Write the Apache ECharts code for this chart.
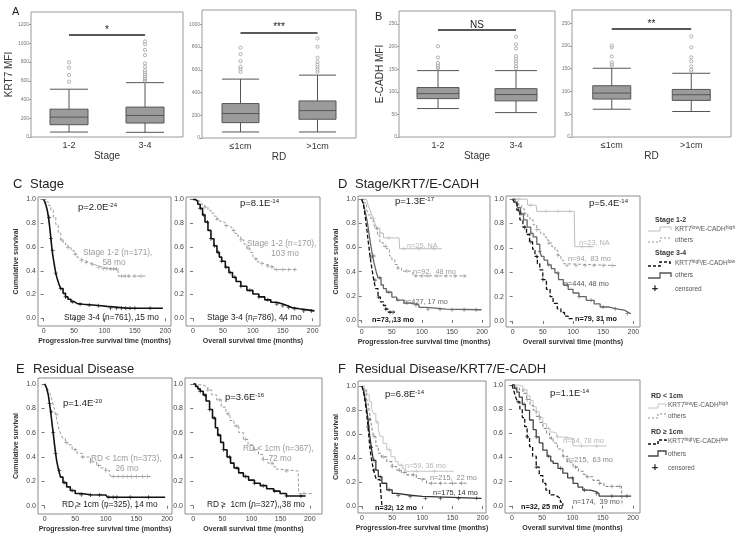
<!DOCTYPE html>
<html><head><meta charset="utf-8">
<script src="https://cdn.jsdelivr.net/npm/echarts@6/dist/echarts.min.js"></script>
<style>html,body{margin:0;padding:0;background:#fff}#c{width:746px;height:538px}</style>
</head><body><div id="c"></div>
<script>
const FONT = "'Liberation Sans', Arial, Helvetica, sans-serif";

// ---------------- Box plot data ----------------
const stageCats = ['1-2', '3-4'];
const rdCats = ['≤1cm', '>1cm'];
const krt7Ticks = [0, 200, 400, 600, 800, 1000, 1200];
const krt7RdTicks = [0, 200, 400, 600, 800, 1000];
const ecadTicks = [0, 50, 100, 150, 200, 250];

// [min, Q1, median, Q3, max]
const krt7StageBox = [[53, 131, 212, 297, 510], [50, 149, 230, 319, 580]];
const krt7StageOut = [[591, 662, 740, 796], [600, 615, 630, 650, 670, 692, 712, 750, 786, 874, 930, 990, 1020]];
const krt7RdBox = [[53, 135, 215, 303, 518], [53, 165, 241, 326, 553]];
const krt7RdOut = [[582, 606, 626, 676, 738, 794], [582, 603, 626, 647, 670, 706, 803, 876]];
const ecadStageBox = [[63, 85, 96, 109.5, 147], [54, 80, 94, 107, 147]];
const ecadStageOut = [[152, 155, 159, 164, 176, 201], [152, 157, 163, 168, 174, 179, 196, 205, 222]];
const ecadRdBox = [[61, 83.3, 96.5, 112.6, 151], [56, 80.4, 92.8, 104.5, 140]];
const ecadRdOut = [[156, 160, 164, 177, 197, 201], [144, 148, 155, 166, 175, 197, 221]];

// ---------------- Kaplan-Meier data [months, survival] ----------------
const timeTicks = [0, 50, 100, 150, 200];
const survTicks = [0, 0.2, 0.4, 0.6, 0.8, 1.0];

// C: Stage
const pfsStage12 = [[0,1],[4,0.98],[8,0.95],[12,0.91],[16,0.85],[20,0.79],[24,0.72],[28,0.66],[32,0.64],[36,0.62],[40,0.595],[45,0.57],[50,0.54],[55,0.515],[58,0.50],[62,0.485],[68,0.47],[75,0.455],[82,0.44],[90,0.43],[96,0.42],[105,0.415],[122,0.41],[123,0.355],[170,0.355]];
const pfsStage34 = [[0,1],[2,0.98],[4,0.95],[6,0.91],[8,0.85],[10,0.77],[12,0.67],[14,0.57],[16,0.5],[18,0.44],[20,0.38],[22,0.34],[25,0.29],[28,0.25],[32,0.21],[36,0.18],[40,0.16],[45,0.14],[50,0.125],[55,0.118],[65,0.112],[80,0.105],[95,0.10],[104,0.095],[106,0.085],[140,0.085],[196,0.08]];
const osStage12 = [[0,1],[5,0.99],[10,0.975],[15,0.955],[20,0.935],[25,0.91],[30,0.885],[35,0.86],[40,0.835],[45,0.815],[50,0.80],[55,0.78],[60,0.765],[65,0.74],[70,0.715],[75,0.69],[80,0.66],[85,0.625],[90,0.59],[95,0.555],[100,0.52],[103,0.50],[107,0.475],[112,0.46],[118,0.45],[125,0.44],[130,0.43],[136,0.41],[173,0.41]];
const osStage34 = [[0,1],[4,0.985],[8,0.96],[12,0.925],[16,0.87],[20,0.81],[25,0.74],[30,0.67],[35,0.61],[40,0.555],[44,0.515],[48,0.48],[54,0.43],[60,0.385],[66,0.345],[72,0.31],[80,0.27],[90,0.235],[100,0.205],[110,0.18],[120,0.155],[130,0.135],[140,0.12],[150,0.105],[158,0.09],[165,0.08],[178,0.075],[185,0.062],[203,0.062]];
const cenPfsStage12 = [30,40,52,62,70,80,90,98,104,110,115,120,128,134,140,150,160];
const cenPfsStage34 = [9,12,15,20,28,36,48,60,75,90,110,120,128,135,142,150,175];
const cenOsStage12 = [20,40,55,68,80,92,105,115,125,132,140,150,160,170];
const cenOsStage34 = [12,18,24,30,36,42,48,55,62,70,80,95,110,125,140,150,160,170,185,198];

// D: Stage / KRT7 / E-CADH
const pfsS12Low = [[0,1],[8,1],[10,0.96],[13,0.92],[16,0.88],[19,0.84],[22,0.80],[25,0.76],[30,0.72],[36,0.68],[62,0.68],[63,0.59],[133,0.59]];
const pfsS12Oth = [[0,1],[4,0.97],[8,0.92],[11,0.87],[15,0.84],[19,0.815],[22,0.76],[26,0.70],[30,0.64],[36,0.61],[41,0.59],[46,0.53],[50,0.50],[55,0.46],[60,0.43],[66,0.405],[80,0.395],[85,0.365],[174,0.365]];
const pfsS34Oth = [[0,1],[3,0.96],[6,0.89],[9,0.82],[12,0.72],[15,0.62],[18,0.53],[21,0.46],[24,0.40],[27,0.35],[32,0.29],[36,0.26],[41,0.23],[50,0.19],[58,0.165],[70,0.14],[80,0.125],[95,0.105],[108,0.09],[140,0.085],[199,0.08]];
const pfsS34High = [[0,1],[3,0.95],[6,0.85],[8,0.77],[11,0.64],[14,0.52],[17,0.42],[20,0.33],[23,0.26],[27,0.19],[31,0.15],[36,0.12],[40,0.09],[44,0.065],[55,0.065]];
const osS12Low = [[0,1],[24,1],[25,0.95],[39,0.95],[40,0.90],[102,0.90],[103,0.61],[135,0.61]];
const osS12Oth = [[0,1],[5,0.98],[10,0.95],[15,0.92],[20,0.88],[25,0.85],[29,0.83],[34,0.79],[40,0.75],[46,0.72],[52,0.69],[56,0.665],[60,0.64],[65,0.61],[70,0.58],[75,0.54],[80,0.50],[84,0.47],[88,0.455],[172,0.455]];
const osS34Oth = [[0,1],[4,0.97],[8,0.93],[13,0.88],[18,0.83],[24,0.77],[30,0.72],[34,0.69],[40,0.63],[45,0.57],[48,0.53],[52,0.50],[58,0.46],[64,0.43],[70,0.395],[76,0.34],[84,0.295],[92,0.26],[100,0.23],[110,0.20],[122,0.17],[135,0.14],[145,0.115],[160,0.10],[172,0.09],[185,0.075],[190,0.06],[196,0.06]];
const osS34High = [[0,1],[3,0.97],[7,0.91],[12,0.83],[17,0.77],[23,0.71],[28,0.65],[33,0.59],[37,0.53],[41,0.47],[45,0.42],[50,0.34],[56,0.26],[62,0.2],[67,0.145],[74,0.10],[80,0.07],[86,0.04],[92,0.02],[100,0.01]];
const cenPfsS12Low = [20,30,45,70,95,120];
const cenPfsS12Oth = [25,40,60,75,90,100,110,125,140,155,170];
const cenPfsS34Oth = [20,30,45,60,75,90,110,130,150,170,190];
const cenPfsS34High = [15,22,28,40,47,52];
const cenOsS12Low = [10,30,55,75,95,115,128];
const cenOsS12Oth = [20,40,60,75,90,105,120,135,150,165];
const cenOsS34Oth = [15,30,45,60,75,90,110,130,150,170,190];
const cenOsS34High = [10,20,30,40,50];

// E: Residual disease
const pfsRDlt = [[0,1],[3,0.98],[6,0.95],[9,0.92],[12,0.87],[15,0.81],[18,0.75],[21,0.68],[24,0.62],[27,0.58],[30,0.55],[34,0.52],[38,0.50],[45,0.46],[53,0.43],[62,0.40],[75,0.36],[85,0.33],[92,0.31],[100,0.29],[106,0.26],[108,0.24],[173,0.24]];
const pfsRDge = [[0,1],[3,0.97],[6,0.91],[8,0.84],[10,0.77],[12,0.68],[14,0.60],[16,0.51],[18,0.43],[20,0.36],[23,0.29],[26,0.235],[30,0.19],[36,0.155],[42,0.125],[50,0.10],[60,0.09],[75,0.088],[100,0.085],[103,0.07],[197,0.065]];
const osRDlt = [[0,1],[5,0.995],[10,0.99],[17,0.975],[25,0.95],[32,0.91],[40,0.87],[48,0.81],[56,0.755],[63,0.70],[70,0.655],[78,0.60],[86,0.545],[94,0.50],[103,0.46],[112,0.42],[120,0.38],[128,0.35],[137,0.32],[143,0.30],[149,0.285],[180,0.285],[181,0.10],[203,0.10]];
const osRDge = [[0,1],[4,0.98],[8,0.96],[12,0.94],[17,0.91],[22,0.86],[28,0.79],[33,0.72],[38,0.64],[42,0.58],[47,0.52],[52,0.46],[58,0.40],[64,0.35],[70,0.31],[78,0.27],[86,0.24],[95,0.21],[105,0.185],[115,0.165],[126,0.14],[138,0.12],[149,0.10],[160,0.08],[193,0.075]];
const cenPfsRDlt = [20,35,50,62,75,88,100,112,120,128,135,142,150,160,168];
const cenPfsRDge = [8,11,14,18,24,32,45,60,75,90,105,112,118,140,170];
const cenOsRDlt = [25,45,60,75,90,105,120,135,160,190];
const cenOsRDge = [12,20,28,36,44,52,62,75,90,105,120,140,160,185];

// F: Residual disease / KRT7 / E-CADH
const pfsRDltLow = [[0,1],[4,0.97],[8,0.93],[12,0.87],[16,0.81],[19,0.77],[23,0.70],[27,0.64],[30,0.58],[35,0.52],[41,0.47],[48,0.41],[55,0.37],[60,0.34],[68,0.31],[72,0.29],[152,0.29]];
const pfsRDltOth = [[0,1],[3,0.96],[7,0.90],[10,0.855],[13,0.76],[16,0.66],[19,0.58],[23,0.50],[27,0.44],[32,0.41],[41,0.37],[50,0.33],[57,0.30],[65,0.28],[74,0.26],[90,0.23],[100,0.22],[107,0.19],[173,0.19]];
const pfsRDgeOth = [[0,1],[3,0.95],[6,0.87],[8,0.80],[10,0.72],[13,0.58],[16,0.47],[19,0.38],[23,0.30],[27,0.245],[33,0.19],[41,0.135],[50,0.105],[58,0.09],[80,0.08],[100,0.075],[102,0.064],[198,0.064]];
const pfsRDgeHigh = [[0,1],[3,0.94],[6,0.84],[8,0.76],[10,0.66],[13,0.49],[16,0.38],[19,0.30],[22,0.25],[24,0.22],[30,0.19],[32,0.19],[33,0]];
const osRDltLow = [[0,1],[10,0.99],[18,0.96],[25,0.91],[30,0.87],[35,0.82],[40,0.78],[45,0.73],[51,0.68],[57,0.64],[63,0.61],[68,0.60],[74,0.57],[79,0.56],[100,0.56],[101,0.495],[156,0.495]];
const osRDltOth = [[0,1],[6,0.98],[12,0.96],[18,0.93],[24,0.88],[30,0.83],[35,0.79],[40,0.74],[46,0.69],[51,0.64],[57,0.60],[62,0.56],[68,0.52],[75,0.47],[84,0.41],[92,0.36],[101,0.32],[110,0.285],[118,0.26],[123,0.24],[134,0.21],[145,0.185],[152,0.16],[181,0.16],[182,0]];
const osRDgeOth = [[0,1],[4,0.97],[8,0.94],[12,0.90],[17,0.84],[22,0.79],[29,0.71],[35,0.63],[40,0.57],[45,0.52],[51,0.46],[58,0.41],[64,0.37],[68,0.35],[76,0.31],[84,0.27],[92,0.23],[101,0.185],[109,0.155],[117,0.13],[130,0.115],[140,0.10],[144,0.08],[197,0.08]];
const osRDgeHigh = [[0,1],[3,0.95],[6,0.90],[9,0.86],[13,0.80],[17,0.73],[21,0.655],[25,0.57],[29,0.49],[34,0.41],[40,0.32],[45,0.25],[51,0.185],[56,0.13],[62,0.09],[70,0.075],[76,0.06],[80,0.03],[84,0]];
const cenPfsRDltLow = [25,45,65,90,120];
const cenPfsRDltOth = [20,35,50,62,70,85,100,115,130,150,165];
const cenPfsRDgeOth = [12,20,30,45,60,80,105,130,160,190];
const cenPfsRDgeHigh = [10,15,20];
const cenOsRDltLow = [20,40,60,75,90,115,140];
const cenOsRDltOth = [25,45,65,85,105,125,145,165,178];
const cenOsRDgeOth = [20,40,60,80,100,120,140,165,190];
const cenOsRDgeHigh = [10,25,40];

// ---------------- builders ----------------
const PLUS = 'path://M4,0h2v4h4v2h-4v4h-2v-4h-4v-2h4z';
const grids = [], xAxes = [], yAxes = [], series = [], graphics = [];

function stepAt(curve, t) {
  let s = curve[0][1];
  for (const p of curve) { if (p[0] <= t) s = p[1]; else break; }
  return s;
}

function addBox(cfg) {
  const gi = grids.length;
  grids.push({left: cfg.rect[0], top: cfg.rect[1], width: cfg.rect[2], height: cfg.rect[3],
    show: true, borderColor: '#9a9a9a', borderWidth: 1, backgroundColor: 'transparent'});
  xAxes.push({type: 'category', gridIndex: gi, data: cfg.cats, boundaryGap: true,
    axisLine: {show: false}, axisTick: {show: false},
    axisLabel: {fontSize: 9, color: '#333', margin: 4, fontFamily: FONT},
    name: cfg.xName, nameLocation: 'middle', nameGap: 12,
    nameTextStyle: {fontSize: 10, color: '#333', fontFamily: FONT}});
  yAxes.push({type: 'value', gridIndex: gi, min: 0, max: cfg.max,
    axisLine: {show: false},
    axisTick: {show: true, length: 2, lineStyle: {color: '#999'}, customValues: cfg.ticks},
    axisLabel: {fontSize: 5, color: '#777', margin: 2, customValues: cfg.ticks, fontFamily: FONT,
      formatter: v => String(Math.round(v))},
    splitLine: {show: false},
    name: cfg.yName || '', nameLocation: 'middle', nameGap: 12,
    nameTextStyle: {fontSize: 10, color: '#333', fontFamily: FONT}});
  series.push({type: 'boxplot', xAxisIndex: gi, yAxisIndex: gi, data: cfg.box,
    boxWidth: [cfg.bw, cfg.bw],
    itemStyle: {color: '#9b9b9b', borderColor: '#555', borderWidth: 1},
    silent: true, animation: false,
    markLine: {silent: true, symbol: ['none', 'none'], animation: false,
      lineStyle: {color: '#222', width: 1.5, type: 'solid'},
      label: {show: true, position: 'middle', formatter: cfg.sig, fontSize: 10, color: '#222', fontFamily: FONT, distance: 0},
      data: [[{coord: [0, cfg.sigY]}, {coord: [1, cfg.sigY]}]]}});
  const pts = [];
  cfg.out.forEach((arr, i) => arr.forEach(v => pts.push([i, v])));
  series.push({type: 'scatter', xAxisIndex: gi, yAxisIndex: gi, data: pts, symbol: 'circle', symbolSize: 3.2,
    itemStyle: {color: '#fff', borderColor: '#8a8a8a', borderWidth: 0.8}, silent: true, animation: false, z: 5});
}

function addKM(cfg) {
  const gi = grids.length;
  grids.push({left: cfg.rect[0], top: cfg.rect[1], width: cfg.rect[2], height: cfg.rect[3],
    show: true, borderColor: '#8c8c8c', borderWidth: 1, backgroundColor: 'transparent'});
  xAxes.push({type: 'value', gridIndex: gi, min: cfg.xr[0], max: cfg.xr[1],
    axisLine: {show: false},
    axisTick: {show: true, length: 3, lineStyle: {color: '#777'}, customValues: timeTicks},
    axisLabel: {customValues: timeTicks, fontSize: 7, color: '#444', margin: 2, fontFamily: FONT,
      formatter: v => String(Math.round(v))},
    splitLine: {show: false},
    name: cfg.xName, nameLocation: 'middle', nameGap: 12,
    nameTextStyle: {fontSize: 7, fontWeight: 'bold', color: '#333', fontFamily: FONT}});
  yAxes.push({type: 'value', gridIndex: gi, min: cfg.yr[0], max: cfg.yr[1],
    axisLine: {show: false},
    axisTick: {show: true, length: 3, lineStyle: {color: '#777'}, customValues: survTicks},
    axisLabel: {customValues: survTicks, fontSize: 7, color: '#444', margin: 2, fontFamily: FONT,
      formatter: v => Number(v).toFixed(1)},
    splitLine: {show: false},
    name: cfg.yName || '', nameLocation: 'middle', nameGap: 18,
    nameTextStyle: {fontSize: 7, fontWeight: 'bold', color: '#333', fontFamily: FONT}});
  cfg.curves.forEach(c => {
    series.push({type: 'line', xAxisIndex: gi, yAxisIndex: gi, data: c.data, step: 'end',
      symbol: 'none', showSymbol: false, silent: true, animation: false, z: c.z || 2,
      lineStyle: {color: c.color, width: c.w, type: c.dash || 'solid'}});
    series.push({type: 'scatter', xAxisIndex: gi, yAxisIndex: gi,
      data: c.cen.map(t => [t, stepAt(c.data, t)]), symbol: PLUS, symbolSize: 4,
      itemStyle: {color: c.color}, silent: true, animation: false, z: (c.z || 2) + 1});
  });
}

function txt(x, y, text, o) {
  o = o || {};
  const st = {text: text, fill: o.color || '#222', fontSize: o.size || 8, fontFamily: FONT,
    fontWeight: o.bold ? 'bold' : 'normal', align: o.align || 'left', verticalAlign: 'middle'};
  if (o.sup) st.rich = {s: {fontSize: o.sup, fill: o.color || '#222', fontFamily: FONT, verticalAlign: 'top', fontWeight: o.bold ? 'bold' : 'normal'}};
  graphics.push({type: 'text', x: x, y: y, silent: true, z: 50, style: st});
}
function pline(points, color, width, dash) {
  graphics.push({type: 'polyline', silent: true, z: 50, shape: {points: points},
    style: {stroke: color, lineWidth: width, fill: null, lineDash: dash || null}});
}

// ---------------- panels ----------------
addBox({rect: [31, 12, 152, 125], cats: stageCats, box: krt7StageBox, out: krt7StageOut, max: 1334, ticks: krt7Ticks,
  yName: 'KRT7 MFI', xName: 'Stage', sig: '*', sigY: 1087, bw: 38});
addBox({rect: [202, 10, 154, 128], cats: rdCats, box: krt7RdBox, out: krt7RdOut, max: 1126, ticks: krt7RdTicks,
  xName: 'RD', sig: '***', sigY: 929, bw: 37});
addBox({rect: [399, 11, 156, 126], cats: stageCats, box: ecadStageBox, out: ecadStageOut, max: 279, ticks: ecadTicks,
  yName: 'E-CADH MFI', xName: 'Stage', sig: 'NS', sigY: 237, bw: 42});
addBox({rect: [572, 10, 159, 127], cats: rdCats, box: ecadRdBox, out: ecadRdOut, max: 279, ticks: ecadTicks,
  xName: 'RD', sig: '**', sigY: 237, bw: 38});

const PFS = 'Progression-free survival time (months)';
const OS = 'Overall survival time (months)';
const CS = 'Cumulative survival';
const gray = '#9a9a9a', black = '#111';

addKM({rect: [38, 197, 133, 129], xr: [-9.2, 209.3], yr: [-0.065, 1.021], xName: PFS, yName: CS, curves: [
  {data: pfsStage12, cen: cenPfsStage12, color: gray, w: 1, dash: [3, 2]},
  {data: pfsStage34, cen: cenPfsStage34, color: black, w: 1.6, z: 4}]});
addKM({rect: [186, 197, 134, 129], xr: [-11.7, 212.2], yr: [-0.065, 1.021], xName: OS, curves: [
  {data: osStage12, cen: cenOsStage12, color: gray, w: 1, dash: [3, 2]},
  {data: osStage34, cen: cenOsStage34, color: black, w: 1.6, z: 4}]});
addKM({rect: [358, 196, 132, 131], xr: [-6.2, 213], yr: [-0.058, 1.027], xName: PFS, yName: CS, curves: [
  {data: pfsS12Low, cen: cenPfsS12Low, color: '#bdbdbd', w: 1},
  {data: pfsS12Oth, cen: cenPfsS12Oth, color: '#999', w: 1, dash: [3, 2]},
  {data: pfsS34Oth, cen: cenPfsS34Oth, color: '#666', w: 1.3, z: 4},
  {data: pfsS34High, cen: cenPfsS34High, color: black, w: 1.3, dash: [4, 2], z: 6}]});
addKM({rect: [506, 196, 134, 131], xr: [-11, 211], yr: [-0.049, 1.026], xName: OS, curves: [
  {data: osS12Low, cen: cenOsS12Low, color: '#bdbdbd', w: 1},
  {data: osS12Oth, cen: cenOsS12Oth, color: '#999', w: 1, dash: [3, 2]},
  {data: osS34Oth, cen: cenOsS34Oth, color: '#666', w: 1.3, z: 4},
  {data: osS34High, cen: cenOsS34High, color: black, w: 1.3, dash: [4, 2], z: 6}]});
addKM({rect: [38, 378, 134, 136], xr: [-10.8, 208.2], yr: [-0.068, 1.049], xName: PFS, yName: CS, curves: [
  {data: pfsRDlt, cen: cenPfsRDlt, color: gray, w: 1, dash: [3, 2]},
  {data: pfsRDge, cen: cenPfsRDge, color: black, w: 1.6, z: 4}]});
addKM({rect: [185, 378, 137, 136], xr: [-14.2, 221], yr: [-0.068, 1.049], xName: OS, curves: [
  {data: osRDlt, cen: cenOsRDlt, color: gray, w: 1, dash: [3, 2]},
  {data: osRDge, cen: cenOsRDge, color: black, w: 1.6, z: 4}]});
addKM({rect: [358, 381, 128, 132], xr: [-6.6, 205.5], yr: [-0.058, 1.042], xName: PFS, yName: CS, curves: [
  {data: pfsRDltLow, cen: cenPfsRDltLow, color: '#c4c4c4', w: 1},
  {data: pfsRDltOth, cen: cenPfsRDltOth, color: '#8c8c8c', w: 1.1, dash: [3, 2]},
  {data: pfsRDgeOth, cen: cenPfsRDgeOth, color: '#333', w: 1.3, z: 4},
  {data: pfsRDgeHigh, cen: cenPfsRDgeHigh, color: black, w: 1.3, dash: [4, 2], z: 6}]});
addKM({rect: [505, 380, 135, 133], xr: [-11.6, 211.6], yr: [-0.06, 1.041], xName: OS, curves: [
  {data: osRDltLow, cen: cenOsRDltLow, color: '#c4c4c4', w: 1},
  {data: osRDltOth, cen: cenOsRDltOth, color: '#8c8c8c', w: 1.1, dash: [3, 2]},
  {data: osRDgeOth, cen: cenOsRDgeOth, color: '#444', w: 1.3, z: 4},
  {data: osRDgeHigh, cen: cenOsRDgeHigh, color: black, w: 1.3, dash: [4, 2], z: 6}]});

// ---------------- panel titles ----------------
txt(12, 12, 'A', {size: 11});
txt(375, 17, 'B', {size: 11});
txt(13, 184, 'C', {size: 13});  txt(30, 184, 'Stage', {size: 13});
txt(338, 184, 'D', {size: 13}); txt(355, 184, 'Stage/KRT7/E-CADH', {size: 13});
txt(16, 369, 'E', {size: 13});  txt(33, 369, 'Residual Disease', {size: 13});
txt(338, 369, 'F', {size: 13}); txt(355, 369, 'Residual Disease/KRT7/E-CADH', {size: 13});

// ---------------- KM annotations ----------------
const pFont = {size: 9.5, sup: 6};
txt(78, 207, 'p=2.0E{s|-24}', pFont);
txt(240, 203, 'p=8.1E{s|-14}', pFont);
txt(395, 201, 'p=1.3E{s|-17}', pFont);
txt(589, 203, 'p=5.4E{s|-14}', pFont);
txt(63, 403, 'p=1.4E{s|-20}', pFont);
txt(225, 397, 'p=3.6E{s|-16}', pFont);
txt(385, 394, 'p=6.8E{s|-14}', pFont);
txt(550, 393, 'p=1.1E{s|-14}', pFont);

txt(83, 253, 'Stage 1-2 (n=171),', {size: 8.3, color: '#9a9a9a'});
txt(114, 263, '58 mo', {size: 8.3, color: '#9a9a9a', align: 'center'});
txt(64, 318, 'Stage 3-4 (n=761), 15 mo', {size: 8.3, color: '#222'});
txt(247, 244, 'Stage 1-2 (n=170),', {size: 8.3, color: '#9a9a9a'});
txt(285, 254, '103 mo', {size: 8.3, color: '#9a9a9a', align: 'center'});
txt(207, 318, 'Stage 3-4 (n=786), 44 mo', {size: 8.3, color: '#222'});

txt(407, 246, 'n=25, NA', {size: 7.3, color: '#b5b5b5'});
txt(413, 272, 'n=92,  48 mo', {size: 7.3, color: '#999'});
txt(403, 302, 'n=427, 17 mo', {size: 7.3, color: '#666'});
txt(372, 320, 'n=73, 13 mo', {size: 7.3, color: '#111', bold: true});
txt(579, 243, 'n=23, NA', {size: 7.3, color: '#b5b5b5'});
txt(568, 259, 'n=94,  83 mo', {size: 7.3, color: '#999'});
txt(564, 284, 'n=444, 48 mo', {size: 7.3, color: '#555'});
txt(575, 319, 'n=79, 31 mo', {size: 7.3, color: '#111', bold: true});

txt(91, 459, 'RD < 1cm (n=373),', {size: 8.3, color: '#9a9a9a'});
txt(127, 469, '26 mo', {size: 8.3, color: '#9a9a9a', align: 'center'});
txt(62, 505, 'RD ≥ 1cm (n=325), 14 mo', {size: 8.3, color: '#222'});
txt(243, 449, 'RD < 1cm (n=367),', {size: 8.3, color: '#9a9a9a'});
txt(280, 459, '72 mo', {size: 8.3, color: '#9a9a9a', align: 'center'});
txt(207, 505, 'RD ≥  1cm (n=327), 38 mo', {size: 8.3, color: '#222'});

txt(405, 466, 'n=59, 36 mo', {size: 7.3, color: '#b5b5b5'});
txt(430, 478, 'n=215,  22 mo', {size: 7.3, color: '#888'});
txt(433, 493, 'n=175, 14 mo', {size: 7.3, color: '#333'});
txt(375, 508, 'n=32, 12 mo', {size: 7.3, color: '#111', bold: true});
txt(563, 441, 'n=54, 78 mo', {size: 7.3, color: '#b5b5b5'});
txt(566, 460, 'n=215,  63 mo', {size: 7.3, color: '#888'});
txt(573, 502, 'n=174,  39 mo', {size: 7.3, color: '#555'});
txt(521, 507, 'n=32, 25 mo', {size: 7.3, color: '#111', bold: true});

// ---------------- legends (D and F) ----------------
const lg = {size: 6.5, color: '#555', sup: 5};
txt(655, 220, 'Stage 1-2', {size: 7, bold: true, color: '#333'});
pline([[648, 231], [660, 231], [660, 227], [671, 227], [671, 230]], '#bdbdbd', 1);
txt(675, 229, 'KRT7{s|low}/E-CADH{s|high}', lg);
pline([[648, 242], [660, 242], [660, 238], [671, 238]], '#999', 1, [2, 2]);
txt(675, 240, 'others', lg);
txt(655, 253, 'Stage 3-4', {size: 7, bold: true, color: '#333'});
pline([[648, 266], [660, 266], [660, 262], [670, 262], [670, 265]], '#111', 1.5, [3, 2]);
txt(675, 263, 'KRT7{s|high}/E-CADH{s|low}', lg);
pline([[648, 278], [660, 278], [660, 273], [671, 273], [671, 277]], '#555', 1.3);
txt(675, 275, 'others', lg);
txt(655, 289, '+', {size: 11, bold: true, color: '#222', align: 'center'});
txt(675, 289, 'censored', lg);

txt(651, 396, 'RD < 1cm', {size: 7, bold: true, color: '#333'});
pline([[648, 408], [658, 408], [658, 404], [666, 404], [666, 407]], '#c4c4c4', 1);
txt(668, 405, 'KRT7{s|low}/E-CADH{s|high}', lg);
pline([[648, 418], [658, 418], [658, 414], [666, 414]], '#8c8c8c', 1, [2, 2]);
txt(668, 416, 'others', lg);
txt(651, 432, 'RD ≥ 1cm', {size: 7, bold: true, color: '#333'});
pline([[648, 444], [658, 444], [658, 440], [666, 440], [666, 443]], '#111', 1.5, [3, 2]);
txt(668, 441, 'KRT7{s|high}/E-CADH{s|low}', lg);
pline([[648, 456], [658, 456], [658, 451], [666, 451], [666, 455]], '#444', 1.3);
txt(668, 454, 'others', lg);
txt(655, 468, '+', {size: 11, bold: true, color: '#222', align: 'center'});
txt(668, 468, 'censored', lg);

const chart = echarts.init(document.getElementById('c'), null, {renderer: 'canvas'});
chart.setOption({
  animation: false,
  backgroundColor: '#fff',
  textStyle: {fontFamily: FONT},
  grid: grids, xAxis: xAxes, yAxis: yAxes, series: series, graphic: graphics
});
</script></body></html>
